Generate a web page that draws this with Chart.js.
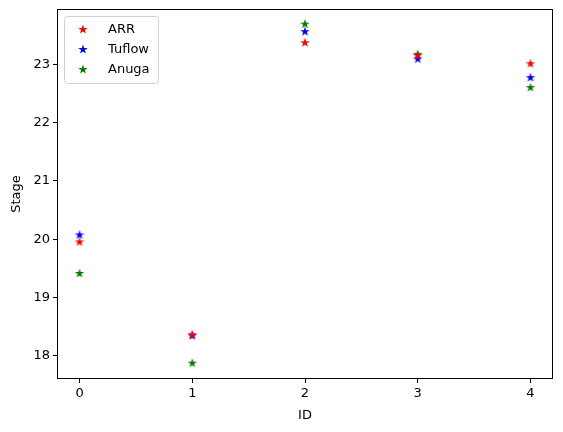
<!DOCTYPE html>
<html>
<head>
<meta charset="utf-8">
<script src="https://cdn.jsdelivr.net/npm/chart.js@4"></script>
<style>
  html, body { margin: 0; padding: 0; background: #fff; }
  #wrap { width: 563px; height: 432px; }
</style>
</head>
<body>
<div id="wrap"><canvas id="stageChart" width="563" height="432"></canvas></div>
<script>
const ids = [0, 1, 2, 3, 4];
const arr = [19.96, 18.37, 23.38, 23.16, 23.02];
const tuflow = [20.08, 18.35, 23.57, 23.1, 22.78];
const anuga = [19.42, 17.88, 23.7, 23.18, 22.61];
const xTicks = [0, 1, 2, 3, 4];
const yTicks = [18, 19, 20, 21, 22, 23];

const FONT = "'DejaVu Sans', sans-serif";

function starImage(color) {
  const c = document.createElement("canvas");
  c.width = 12;
  c.height = 12;
  const g = c.getContext("2d");
  const R = 5, r = R * 0.382;
  g.beginPath();
  for (let i = 0; i < 10; i++) {
    const rad = i % 2 === 0 ? R : r;
    const a = -Math.PI / 2 + (i * Math.PI) / 5;
    const px = 6 + rad * Math.cos(a);
    const py = 6.5 + rad * Math.sin(a);
    if (i === 0) g.moveTo(px, py);
    else g.lineTo(px, py);
  }
  g.closePath();
  g.fillStyle = color;
  g.fill();
  return c;
}

function toPoints(vals) {
  return vals.map((v, i) => ({ x: ids[i], y: v }));
}

const series = [
  { label: "ARR", data: arr, color: "#ff0000" },
  { label: "Tuflow", data: tuflow, color: "#0000ff" },
  { label: "Anuga", data: anuga, color: "#008000" },
];

// frame + legend drawn inside plot area like matplotlib
const framePlugin = {
  id: "frame",
  afterDraw(chart) {
    const { ctx, chartArea: a } = chart;
    ctx.save();
    ctx.strokeStyle = "#000";
    ctx.lineWidth = 1;
    ctx.strokeRect(Math.round(a.left) + 0.5, Math.round(a.top) + 0.5,
      Math.round(a.right - a.left) - 1, Math.round(a.bottom - a.top) - 1);

    // legend box
    const bx = 64.5, by = 16.5, bw = 94, bh = 67;
    ctx.beginPath();
    ctx.roundRect(bx, by, bw, bh, 3);
    ctx.fillStyle = "rgba(255,255,255,0.8)";
    ctx.fill();
    ctx.strokeStyle = "#d0d0d0";
    ctx.stroke();
    ctx.font = "13px " + FONT;
    ctx.fillStyle = "#000";
    ctx.textBaseline = "middle";
    series.forEach((s, i) => {
      const y = 29 + i * 20;
      const img = chart.data.datasets[i].pointStyle;
      ctx.drawImage(img, 83 - 6, y - 6);
      ctx.fillText(s.label, 108, y + 1);
    });
    ctx.restore();
  },
};

new Chart(document.getElementById("stageChart"), {
  type: "scatter",
  data: {
    datasets: series.map((s) => ({
      label: s.label,
      data: toPoints(s.data),
      pointStyle: starImage(s.color),
      backgroundColor: s.color,
      borderColor: s.color,
    })),
  },
  options: {
    responsive: false,
    animation: false,
    layout: { padding: { left: 9, right: 10, top: 9, bottom: 9 } },
    plugins: { legend: { display: false }, tooltip: { enabled: false } },
    scales: {
      x: {
        type: "linear",
        min: -0.2,
        max: 4.2,
        afterBuildTicks: (axis) => { axis.ticks = xTicks.map((v) => ({ value: v })); },
        afterFit: (axis) => {
          axis.height = 44;
          axis.paddingLeft = 0;
          axis.paddingRight = 0;
        },
        grid: { display: true, drawOnChartArea: false, tickLength: 4, color: "#000" },
        border: { display: false },
        ticks: { color: "#000", font: { family: FONT, size: 13 }, padding: 3, maxRotation: 0 },
        title: { display: true, text: "ID", color: "#000", font: { family: FONT, size: 13 }, padding: { top: 0, bottom: 0 } },
      },
      y: {
        type: "linear",
        min: 17.6,
        max: 23.95,
        afterBuildTicks: (axis) => { axis.ticks = yTicks.map((v) => ({ value: v })); },
        afterFit: (axis) => {
          axis.width = 48;
          axis.paddingTop = 0;
          axis.paddingBottom = 0;
        },
        grid: { display: true, drawOnChartArea: false, tickLength: 4, color: "#000" },
        border: { display: false },
        ticks: { color: "#000", font: { family: FONT, size: 13 }, padding: 3 },
        title: { display: true, text: "Stage", color: "#000", font: { family: FONT, size: 13 }, padding: { top: 0, bottom: 0 } },
      },
    },
  },
  plugins: [framePlugin],
});
</script>
</body>
</html>
